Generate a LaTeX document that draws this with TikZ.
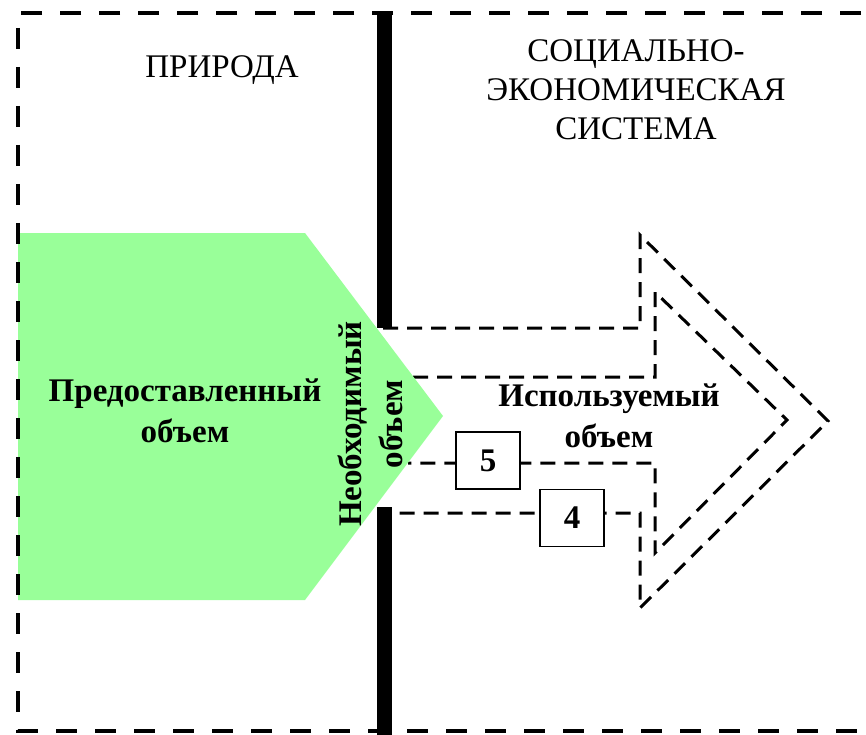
\documentclass[tikz,border=0pt]{standalone}
\usepackage{fontspec}
\setmainfont{Liberation Serif}
\definecolor{natgreen}{RGB}{153,255,153}
\tikzset{
  framedash/.style={line width=4.5pt, dash pattern=on 21pt off 18pt},
  arrowdash/.style={line width=3pt, dash pattern=on 15pt off 9pt},
  numbox/.style={draw, line width=1.5pt, fill=white, minimum width=64pt, minimum height=57pt, inner sep=0pt, font=\fontsize{33}{38}\selectfont\bfseries},
  biglabel/.style={align=center, font=\fontsize{33}{39}\selectfont},
  boldlabel/.style={align=center, font=\fontsize{33}{41}\selectfont\bfseries}
}
\begin{document}
\begin{tikzpicture}[x=1pt,y=-1pt]
\useasboundingbox (0,0) rectangle (866,735);
\clip (0,0) rectangle (866,735);
\draw[arrowdash] (383,328) -- (640,328) -- (640,235) -- (828,421) -- (640,608) -- (640,513) -- (383,513);
\draw[arrowdash] (413,377) -- (655,377) -- (655,292) -- (787,420) -- (655,553) -- (655,463) -- (408,463);
\fill[natgreen] (18,233) -- (305,233) -- (443,416) -- (305,600) -- (18,600) -- cycle;
\node[numbox] (five) at (488,460.5) {5};
\node[numbox] (four) at (572,518) {4};
\draw[line width=15pt] (384,11) -- (384,328);
\draw[line width=15pt] (384,507) -- (384,735);
\draw[framedash] (900,13) -- (18,13) -- (18,731) -- (900,731);
\node[biglabel, anchor=base] (nature) at (222,78) {ПРИРОДА};
\node[biglabel] (socsys) at (636,90) {СОЦИАЛЬНО-\\ЭКОНОМИЧЕСКАЯ\\СИСТЕМА};
\node[boldlabel] (given) at (185,411) {Предоставленный\\объем};
\node[boldlabel, rotate=90] (needed) at (370,424) {Необходимый\\объем};
\node[boldlabel] (used) at (609,416) {Используемый\\объем};
\end{tikzpicture}
\end{document}
